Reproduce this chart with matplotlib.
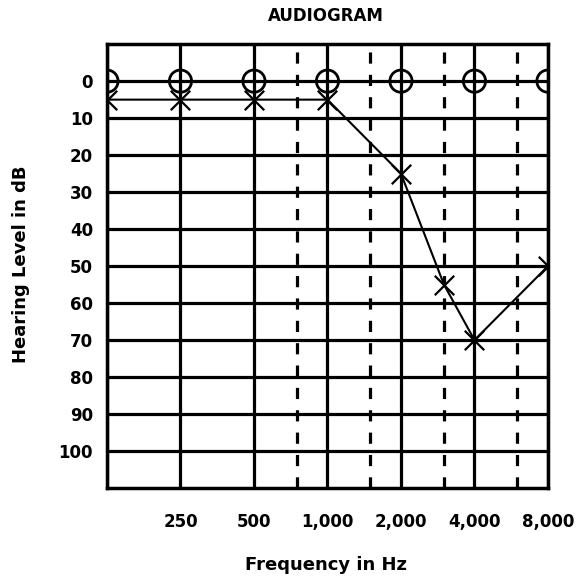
import matplotlib
import matplotlib.pyplot as plt

matplotlib.use("Agg")

# audiogram values
octave_freqs = [125, 250, 500, 1000, 2000, 4000, 8000]
mid_freqs = [750, 1500, 3000, 6000]
circle_db = [0, 0, 0, 0, 0, 0, 0]

cross_freqs = [125, 250, 500, 1000, 2000, 3000, 4000, 8000]
cross_db = [5, 5, 5, 5, 25, 55, 70, 50]

db_levels = [0, 10, 20, 30, 40, 50, 60, 70, 80, 90, 100]
tick_freqs = [250, 500, 1000, 2000, 4000, 8000]
tick_labels = ["250", "500", "1,000", "2,000", "4,000", "8,000"]

fig = plt.figure(figsize=(5.77, 5.81), dpi=100)
fig.patch.set_facecolor("white")
ax = fig.add_axes([0.1854, 0.16, 0.7643, 0.764])

ax.set_xscale("log", base=2)
ax.set_xlim(125, 8000)
ax.set_ylim(110, -10)

# grid
for f in octave_freqs:
    ax.axvline(f, color="black", lw=2.3, zorder=1)
for f in mid_freqs:
    ax.axvline(f, color="black", lw=2.3, ls=(0, (3.5, 3.5)), zorder=1)
for d in db_levels:
    ax.axhline(d, color="black", lw=2.3, zorder=1)

# air conduction marks (the ones on the frame get cut in half)
ax.scatter(octave_freqs, circle_db, s=256, marker="o", facecolors="none",
           edgecolors="black", linewidths=2, zorder=3)
ax.plot(cross_freqs, cross_db, color="black", lw=1.5, zorder=3)
ax.scatter(cross_freqs, cross_db, s=196, marker="x", color="black",
           linewidths=1.6, zorder=3)

for s in ax.spines.values():
    s.set_linewidth(2.5)

ax.set_xticks(tick_freqs)
ax.set_xticklabels(tick_labels)
ax.xaxis.set_minor_locator(matplotlib.ticker.NullLocator())
ax.set_yticks(db_levels)
ax.set_yticklabels([str(d) for d in db_levels])
ax.tick_params(axis="both", length=0, labelsize=12)
ax.tick_params(axis="x", pad=18)
ax.tick_params(axis="y", pad=10)
for lbl in ax.get_xticklabels() + ax.get_yticklabels():
    lbl.set_fontweight("bold")

fig.text(0.565, 0.972, "AUDIOGRAM", ha="center", va="center", fontsize=12, fontweight="bold")
fig.text(0.565, 0.028, "Frequency in Hz", ha="center", va="center", fontsize=13, fontweight="bold")
fig.text(0.036, 0.545, "Hearing Level in dB", ha="center", va="center", rotation=90,
         fontsize=13, fontweight="bold")

fig.savefig("out.png", dpi=100, facecolor="white")
